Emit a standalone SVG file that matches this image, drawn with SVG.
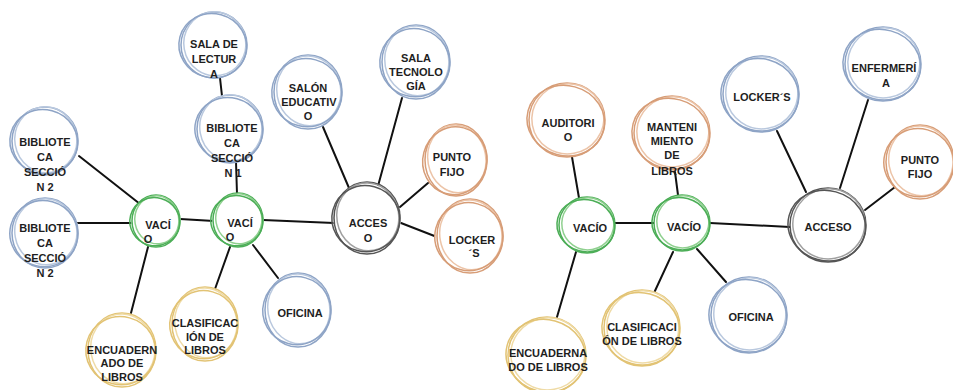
<svg xmlns="http://www.w3.org/2000/svg" width="953" height="390" viewBox="0 0 953 390">
<style>
.bg{fill:#ffffff}
.e{fill:none;stroke-width:1.5}
.fill{fill:#ffffff;stroke:none}
.blue .e{stroke:#8ea4c6}
.blue .e2{stroke:#b9c8de}
.green .e{stroke:#4cae57}
.green .e2{stroke:#8fd08f}
.yellow .e{stroke:#e2c374}
.yellow .e2{stroke:#efdba6}
.orange .e{stroke:#d79d77}
.orange .e2{stroke:#ecc4a8}
.gray .e{stroke:#555555}
.gray .e2{stroke:#a0a0a0}
text{font-family:"Liberation Sans",Arial,sans-serif;font-weight:bold;font-size:11px;fill:#1e1e1e;text-anchor:middle}
#connectors line{stroke:#111111;stroke-width:2;stroke-linecap:round}
</style>
<rect class="bg" x="0" y="0" width="953" height="390"/>
<g id="connectors">
<line x1="79" y1="156" x2="140" y2="204"/>
<line x1="77" y1="223" x2="132" y2="223"/>
<line x1="180" y1="219" x2="214" y2="221"/>
<line x1="148" y1="247" x2="131" y2="313"/>
<line x1="236" y1="162" x2="237" y2="194"/>
<line x1="220" y1="78" x2="222" y2="96"/>
<line x1="230" y1="247" x2="215" y2="289"/>
<line x1="253" y1="245" x2="278" y2="278"/>
<line x1="263" y1="220" x2="334" y2="223"/>
<line x1="323" y1="127" x2="349" y2="188"/>
<line x1="402" y1="98" x2="378" y2="186"/>
<line x1="428" y1="183" x2="400" y2="207"/>
<line x1="401" y1="223" x2="437" y2="237"/>
<line x1="572" y1="157" x2="579" y2="198"/>
<line x1="615" y1="223" x2="654" y2="223"/>
<line x1="576" y1="252" x2="557" y2="317"/>
<line x1="675" y1="172" x2="678" y2="195"/>
<line x1="673" y1="252" x2="654" y2="293"/>
<line x1="697" y1="249" x2="726" y2="282"/>
<line x1="710" y1="223" x2="790" y2="227"/>
<line x1="777" y1="131" x2="806" y2="192"/>
<line x1="868" y1="100" x2="840" y2="188"/>
<line x1="895" y1="187" x2="865" y2="210"/>
</g>

<!-- LEFT DIAGRAM -->
<g id="sala-lectura" class="blue">
<g transform="translate(214,45)"><circle class="fill" r="33"/><ellipse class="e" rx="33" ry="33"/><ellipse class="e e2" cx="1" cy="-1" rx="31" ry="32" transform="rotate(-10)"/><ellipse class="e" cx="-1" cy="1" rx="34" ry="32" transform="rotate(15)"/></g>
<text x="214" y="48">SALA DE</text><text x="214" y="63">LECTUR</text><text x="214" y="78">A</text>
</g>
<g id="biblioteca-1" class="blue">
<g transform="translate(230,129)"><circle class="fill" r="33"/><ellipse class="e" rx="33" ry="34"/><ellipse class="e e2" cx="1" cy="-1" rx="31" ry="33" transform="rotate(-10)"/><ellipse class="e" cx="-1" cy="1" rx="34" ry="32" transform="rotate(15)"/></g>
<text x="232" y="132">BIBLIOTE</text><text x="232" y="147">CA</text><text x="232" y="162">SECCIÓ</text><text x="233" y="177">N 1</text>
</g>
<g id="biblioteca-2a" class="blue">
<g transform="translate(45,141)"><circle class="fill" r="33"/><ellipse class="e" rx="33" ry="34"/><ellipse class="e e2" cx="1" cy="-1" rx="31" ry="33" transform="rotate(-10)"/><ellipse class="e" cx="-1" cy="1" rx="34" ry="32" transform="rotate(15)"/></g>
<text x="45" y="146">BIBLIOTE</text><text x="45" y="161">CA</text><text x="45" y="176">SECCIÓ</text><text x="45" y="191">N 2</text>
</g>
<g id="biblioteca-2b" class="blue">
<g transform="translate(45,233)"><circle class="fill" r="34"/><ellipse class="e" rx="33" ry="35"/><ellipse class="e e2" cx="1" cy="-1" rx="31" ry="33" transform="rotate(-10)"/><ellipse class="e" cx="-1" cy="1" rx="34" ry="33" transform="rotate(15)"/></g>
<text x="45" y="232">BIBLIOTE</text><text x="45" y="247">CA</text><text x="45" y="262">SECCIÓ</text><text x="45" y="277">N 2</text>
</g>
<g id="vacio-l1" class="green">
<g transform="translate(156,221)"><circle class="fill" r="25"/><ellipse class="e" rx="24" ry="26"/><ellipse class="e e2" cx="1" cy="-1" rx="22" ry="24" transform="rotate(-10)"/><ellipse class="e" cx="-1" cy="1" rx="25" ry="24" transform="rotate(15)"/></g>
<text x="158" y="229">VACÍ</text><text x="148" y="243">O</text>
</g>
<g id="vacio-l2" class="green">
<g transform="translate(238,220)"><circle class="fill" r="26"/><ellipse class="e" rx="25" ry="27"/><ellipse class="e e2" cx="1" cy="-1" rx="23" ry="25" transform="rotate(-10)"/><ellipse class="e" cx="-1" cy="1" rx="26" ry="25" transform="rotate(15)"/></g>
<text x="240" y="227">VACÍ</text><text x="230" y="241">O</text>
</g>
<g id="encuadernado-l" class="yellow">
<g transform="translate(122,350)"><circle class="fill" r="35"/><ellipse class="e" rx="34" ry="37"/><ellipse class="e e2" cx="1" cy="-1" rx="32" ry="35" transform="rotate(-10)"/><ellipse class="e" cx="-1" cy="1" rx="35" ry="34" transform="rotate(15)"/></g>
<text x="122" y="354">ENCUADERN</text><text x="122" y="367">ADO DE</text><text x="122" y="381">LIBROS</text>
</g>
<g id="clasificacion-l" class="yellow">
<g transform="translate(205,324)"><circle class="fill" r="35"/><ellipse class="e" rx="33" ry="37"/><ellipse class="e e2" cx="1" cy="-1" rx="31" ry="35" transform="rotate(-10)"/><ellipse class="e" cx="-1" cy="1" rx="34" ry="34" transform="rotate(15)"/></g>
<text x="205" y="327">CLASIFICAC</text><text x="205" y="341">IÓN DE</text><text x="205" y="354">LIBROS</text>
</g>
<g id="oficina-l" class="blue">
<g transform="translate(298,310)"><circle class="fill" r="35"/><ellipse class="e" rx="33" ry="37"/><ellipse class="e e2" cx="1" cy="-1" rx="31" ry="35" transform="rotate(-10)"/><ellipse class="e" cx="-1" cy="1" rx="34" ry="34" transform="rotate(15)"/></g>
<text x="300" y="317">OFICINA</text>
</g>
<g id="acceso-l" class="gray">
<g transform="translate(367,218)"><circle class="fill" r="34"/><ellipse class="e" rx="33" ry="36"/><ellipse class="e e2" cx="1" cy="-1" rx="31" ry="34" transform="rotate(-10)"/><ellipse class="e" cx="-1" cy="1" rx="34" ry="33" transform="rotate(15)"/></g>
<text x="368" y="227">ACCES</text><text x="368" y="242">O</text>
</g>
<g id="lockers-l" class="orange">
<g transform="translate(470,236)"><circle class="fill" r="35"/><ellipse class="e" rx="33" ry="37"/><ellipse class="e e2" cx="1" cy="-1" rx="31" ry="35" transform="rotate(-10)"/><ellipse class="e" cx="-1" cy="1" rx="34" ry="34" transform="rotate(15)"/></g>
<text x="472" y="244">LOCKER</text><text x="474" y="257">´S</text>
</g>
<g id="punto-fijo-l" class="orange">
<g transform="translate(456,160)"><circle class="fill" r="33"/><ellipse class="e" rx="31" ry="36"/><ellipse class="e e2" cx="1" cy="-1" rx="29" ry="34" transform="rotate(-10)"/><ellipse class="e" cx="-1" cy="1" rx="32" ry="34" transform="rotate(15)"/></g>
<text x="452" y="161">PUNTO</text><text x="452" y="176">FIJO</text>
</g>
<g id="sala-tecnologia" class="blue">
<g transform="translate(416,62)"><circle class="fill" r="35"/><ellipse class="e" rx="34" ry="37"/><ellipse class="e e2" cx="1" cy="-1" rx="32" ry="35" transform="rotate(-10)"/><ellipse class="e" cx="-1" cy="1" rx="35" ry="34" transform="rotate(15)"/></g>
<text x="416" y="62">SALA</text><text x="416" y="76">TECNOLO</text><text x="416" y="90">GÍA</text>
</g>
<g id="salon-educativo" class="blue">
<g transform="translate(308,92)"><circle class="fill" r="35"/><ellipse class="e" rx="34" ry="37"/><ellipse class="e e2" cx="1" cy="-1" rx="32" ry="35" transform="rotate(-10)"/><ellipse class="e" cx="-1" cy="1" rx="35" ry="34" transform="rotate(15)"/></g>
<text x="308" y="92">SALÓN</text><text x="309" y="106">EDUCATIV</text><text x="308" y="120">O</text>
</g>

<!-- RIGHT DIAGRAM -->
<g id="auditorio" class="orange">
<g transform="translate(567,120)"><circle class="fill" r="37"/><ellipse class="e" rx="38" ry="37"/><ellipse class="e e2" cx="1" cy="-1" rx="36" ry="35" transform="rotate(-10)"/><ellipse class="e" cx="-1" cy="1" rx="39" ry="35" transform="rotate(15)"/></g>
<text x="568" y="127">AUDITORI</text><text x="568" y="141">O</text>
</g>
<g id="mantenimiento" class="orange">
<g transform="translate(672,133)"><circle class="fill" r="37"/><ellipse class="e" rx="38" ry="37"/><ellipse class="e e2" cx="1" cy="-1" rx="36" ry="35" transform="rotate(-10)"/><ellipse class="e" cx="-1" cy="1" rx="39" ry="35" transform="rotate(15)"/></g>
<text x="672" y="131">MANTENI</text><text x="672" y="145">MIENTO</text><text x="672" y="159">DE</text><text x="672" y="175">LIBROS</text>
</g>
<g id="lockers-r" class="blue">
<g transform="translate(761,94)"><circle class="fill" r="38"/><ellipse class="e" rx="38" ry="38"/><ellipse class="e e2" cx="1" cy="-1" rx="36" ry="36" transform="rotate(-10)"/><ellipse class="e" cx="-1" cy="1" rx="39" ry="36" transform="rotate(15)"/></g>
<text x="762" y="101">LOCKER´S</text>
</g>
<g id="enfermeria" class="blue">
<g transform="translate(883,64)"><circle class="fill" r="38"/><ellipse class="e" rx="38" ry="37"/><ellipse class="e e2" cx="1" cy="-1" rx="36" ry="35" transform="rotate(-10)"/><ellipse class="e" cx="-1" cy="1" rx="39" ry="35" transform="rotate(15)"/></g>
<text x="884" y="72">ENFERMERÍ</text><text x="886" y="87">A</text>
</g>
<g id="punto-fijo-r" class="orange">
<g transform="translate(920,162)"><circle class="fill" r="35"/><ellipse class="e" rx="34" ry="37"/><ellipse class="e e2" cx="1" cy="-1" rx="32" ry="35" transform="rotate(-10)"/><ellipse class="e" cx="-1" cy="1" rx="35" ry="34" transform="rotate(15)"/></g>
<text x="920" y="164">PUNTO</text><text x="920" y="178">FIJO</text>
</g>
<g id="acceso-r" class="gray">
<g transform="translate(828,225)"><circle class="fill" r="38"/><ellipse class="e" rx="38" ry="37"/><ellipse class="e e2" cx="1" cy="-1" rx="36" ry="35" transform="rotate(-10)"/><ellipse class="e" cx="-1" cy="1" rx="39" ry="35" transform="rotate(15)"/></g>
<text x="828" y="231">ACCESO</text>
</g>
<g id="oficina-r" class="blue">
<g transform="translate(749,315)"><circle class="fill" r="38"/><ellipse class="e" rx="38" ry="38"/><ellipse class="e e2" cx="1" cy="-1" rx="36" ry="36" transform="rotate(-10)"/><ellipse class="e" cx="-1" cy="1" rx="39" ry="36" transform="rotate(15)"/></g>
<text x="751" y="321">OFICINA</text>
</g>
<g id="vacio-r1" class="green">
<g transform="translate(587,225)"><circle class="fill" r="28"/><ellipse class="e" rx="28" ry="28"/><ellipse class="e e2" cx="1" cy="-1" rx="26" ry="26" transform="rotate(-10)"/><ellipse class="e" cx="-1" cy="1" rx="29" ry="26" transform="rotate(15)"/></g>
<text x="590" y="232">VACÍO</text>
</g>
<g id="vacio-r2" class="green">
<g transform="translate(682,223)"><circle class="fill" r="28"/><ellipse class="e" rx="28" ry="28"/><ellipse class="e e2" cx="1" cy="-1" rx="26" ry="26" transform="rotate(-10)"/><ellipse class="e" cx="-1" cy="1" rx="29" ry="26" transform="rotate(15)"/></g>
<text x="684" y="231">VACÍO</text>
</g>
<g id="encuadernado-r" class="yellow">
<g transform="translate(547,355)"><circle class="fill" r="38"/><ellipse class="e" rx="39" ry="38"/><ellipse class="e e2" cx="1" cy="-1" rx="37" ry="36" transform="rotate(-10)"/><ellipse class="e" cx="-1" cy="1" rx="40" ry="36" transform="rotate(15)"/></g>
<text x="548" y="357">ENCUADERNA</text><text x="548" y="371">DO DE LIBROS</text>
</g>
<g id="clasificacion-r" class="yellow">
<g transform="translate(642,328)"><circle class="fill" r="38"/><ellipse class="e" rx="38" ry="38"/><ellipse class="e e2" cx="1" cy="-1" rx="36" ry="36" transform="rotate(-10)"/><ellipse class="e" cx="-1" cy="1" rx="39" ry="36" transform="rotate(15)"/></g>
<text x="642" y="331">CLASIFICACI</text><text x="642" y="345">ÓN DE LIBROS</text>
</g>
</svg>
